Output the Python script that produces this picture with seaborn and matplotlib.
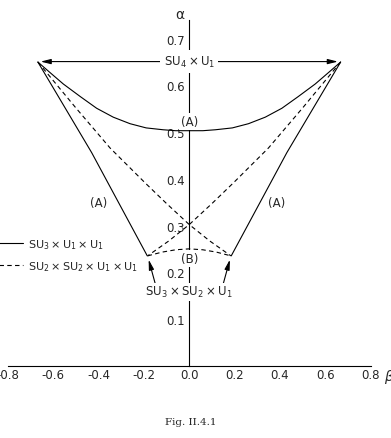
import matplotlib
matplotlib.use("Agg")
import matplotlib.pyplot as plt
import seaborn as sns
import pandas as pd

# ---- data ----
top_x = [-0.667, -0.61, -0.555, -0.48, -0.408, -0.335, -0.261, -0.19, -0.115, -0.06, 0.0,
         0.06, 0.115, 0.19, 0.261, 0.335, 0.408, 0.48, 0.555, 0.61, 0.667]
top_a = [0.650, 0.626, 0.603, 0.576, 0.551, 0.532, 0.518, 0.509, 0.505, 0.503, 0.503,
         0.503, 0.505, 0.509, 0.518, 0.532, 0.551, 0.576, 0.603, 0.626, 0.650]

side_left_x = [-0.667, -0.43, -0.185]
side_left_a = [0.650, 0.456, 0.235]
side_right_x = [0.667, 0.43, 0.185]
side_right_a = [0.650, 0.456, 0.235]

dash1_x = [-0.667, -0.5, -0.349, -0.196, -0.1, 0.0, 0.09, 0.1835]
dash1_a = [0.650, 0.552, 0.466, 0.392, 0.347, 0.302, 0.267, 0.235]
dash2_x = [0.667, 0.5, 0.349, 0.196, 0.1, 0.0, -0.09, -0.1835]
dash2_a = [0.650, 0.552, 0.466, 0.392, 0.347, 0.302, 0.267, 0.235]

arc_x = [-0.1835, -0.12, -0.06, 0.0, 0.06, 0.12, 0.1835]
arc_a = [0.235, 0.243, 0.248, 0.250, 0.248, 0.243, 0.235]

x_ticks = [-0.8, -0.6, -0.4, -0.2, 0.0, 0.2, 0.4, 0.6, 0.8]
y_ticks = [0.1, 0.2, 0.3, 0.4, 0.5, 0.6, 0.7]

vertex_top = (0.667, 0.651)
vertex_low = (0.183, 0.235)

label_solid = r"$\mathrm{SU}_3\times\mathrm{U}_1\times\mathrm{U}_1$"
label_dash = r"$\mathrm{SU}_2\times\mathrm{SU}_2\times\mathrm{U}_1\times\mathrm{U}_1$"
label_su4 = r"$\mathrm{SU}_4\times\mathrm{U}_1$"
label_su3su2 = r"$\mathrm{SU}_3\times\mathrm{SU}_2\times\mathrm{U}_1$"

sns.set_style("white")
plt.rcParams["font.family"] = ["DejaVu Sans"]
plt.rcParams["mathtext.fontset"] = "dejavusans"
plt.rcParams["axes.unicode_minus"] = False
FS = 8.5
LW = 0.8
dash_style = (0, (4, 3))

fig = plt.figure(figsize=(3.91, 4.39), dpi=100)
ax = fig.add_axes([0, 0, 1, 1])
ax.set_facecolor("white")

def curve(xs, ys, ls):
    df = pd.DataFrame({"beta": xs, "alpha": ys})
    sns.lineplot(data=df, x="beta", y="alpha", sort=False, estimator=None,
                 color="black", lw=LW, linestyle=ls, ax=ax, legend=False)
    return ax.lines[-1]

curve(top_x, top_a, "-")
h_solid = curve(side_left_x, side_left_a, "-")
curve(side_right_x, side_right_a, "-")
h_dash = curve(dash1_x, dash1_a, dash_style)
curve(dash2_x, dash2_a, dash_style)
curve(arc_x, arc_a, dash_style)

ax.set_xlim(-0.834, 0.889)
ax.set_ylim(-0.155, 0.785)
ax.set_xlabel("")
ax.set_ylabel("")

# axes through origin
for s in ["top", "right"]:
    ax.spines[s].set_visible(False)
ax.spines["left"].set_position(("data", 0))
ax.spines["bottom"].set_position(("data", 0))
ax.spines["left"].set_bounds(0, 0.739)
ax.spines["bottom"].set_bounds(-0.8, 0.8)
for s in ["left", "bottom"]:
    ax.spines[s].set_linewidth(LW)
    ax.spines[s].set_color("black")

ax.set_xticks(x_ticks)
ax.set_xticklabels([f"{v:.1f}" for v in x_ticks])
ax.set_yticks(y_ticks)
ax.set_yticklabels([f"{v:.1f}" for v in y_ticks])
ax.tick_params(axis="x", direction="in", length=3.6, width=LW, pad=2.0, labelsize=FS)
ax.tick_params(axis="y", direction="inout", length=4.5, width=LW, pad=1.0, labelsize=FS)

# labels
bb = dict(boxstyle="square,pad=0.15", fc="white", ec="none")
ax.text(0, vertex_top[1], label_su4, ha="center", va="center",
        fontsize=FS, bbox=dict(boxstyle="square,pad=0.3", fc="white", ec="none"), zorder=5)
for sgn in (-1, 1):
    ax.annotate("", xy=(sgn * (vertex_top[0] - 0.012), vertex_top[1]), xytext=(0, vertex_top[1]),
                arrowprops=dict(arrowstyle="-|>,head_length=0.6,head_width=0.15",
                                lw=LW, color="black", shrinkA=0, shrinkB=0), zorder=1)
ax.text(0, 0.5225, "(A)", ha="center", va="center", fontsize=FS, bbox=bb, zorder=5)
ax.text(-0.40, 0.35, "(A)", ha="center", va="center", fontsize=FS)
ax.text(0.385, 0.35, "(A)", ha="center", va="center", fontsize=FS)
ax.text(0, 0.229, "(B)", ha="center", va="center", fontsize=FS, bbox=bb, zorder=5)

ax.text(0, 0.158, label_su3su2, ha="center", va="center",
        fontsize=FS, bbox=bb, zorder=5)
for sgn in (-1, 1):
    ax.annotate("", xy=(sgn * (vertex_low[0] - 0.004), vertex_low[1] - 0.008),
                xytext=(sgn * 0.148, 0.172),
                arrowprops=dict(arrowstyle="-|>,head_length=0.6,head_width=0.15",
                                lw=LW, color="black", shrinkA=0, shrinkB=0))

ax.text(-0.04, 0.752, "\u03b1", ha="center", va="center", fontsize=10)
ax.text(0.858, -0.022, "\u03b2", ha="left", va="center", fontsize=10, style="italic")

ax.legend(handles=[h_solid, h_dash], labels=[label_solid, label_dash],
          loc="center left", bbox_to_anchor=(-0.013, 0.417), frameon=False,
          fontsize=8, handlelength=2.5, handletextpad=0.45, borderpad=0,
          borderaxespad=0, labelspacing=0.75)

fig.text(0.488, 0.037, "Fig. II.4.1", ha="center", va="center", fontsize=7.5,
         family="DejaVu Serif")

fig.savefig("out.png", dpi=100)
